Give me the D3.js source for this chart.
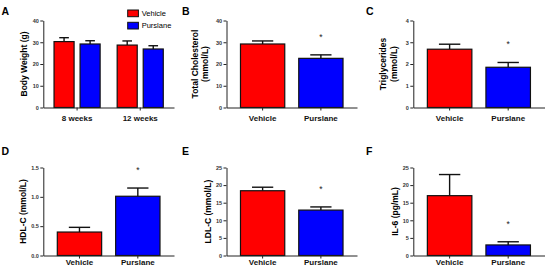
<!DOCTYPE html>
<html>
<head>
<script src="https://d3js.org/d3.v7.js"></script>
<style>
  body { margin: 0; background: #fff; }
  svg text { font-family: Arial, 'Liberation Sans', sans-serif; }
  .axis path, .axis line { stroke: #222; stroke-width: 1; }
  .axis text { font-size: 5.5px; font-weight: bold; fill: #333; }
  .xaxis text { font-size: 8px; font-weight: bold; fill: #111; }
</style>
</head>
<body>
<script>
// ---- data ----
const treatments = ['Vehicle', 'Purslane']
const weeks = ['8 weeks', '12 weeks']

// body weight (g), rows = weeks, cols = treatments
const bodyWeight = [[30.3, 29.2], [28.7, 26.9]]
const bodyWeightSem = [[1.8, 1.5], [1.9, 1.5]]
const bodyWeightTicks = [0, 10, 20, 30, 40]

const cholesterol = [29.2, 22.6]
const cholesterolSem = [1.4, 1.6]
const cholesterolTicks = [0, 10, 20, 30, 40]

const triglycerides = [2.68, 1.85]
const triglyceridesSem = [0.23, 0.22]
const triglyceridesTicks = [0, 1, 2, 3, 4]

const hdl = [0.40, 1.01]
const hdlSem = [0.08, 0.14]
const hdlTicks = [0.0, 0.5, 1.0, 1.5]

const ldl = [18.4, 12.9]
const ldlSem = [1.0, 0.9]
const ldlTicks = [0, 5, 10, 15, 20, 25]

const il6 = [17.0, 3.0]
const il6Sem = [6.0, 0.9]
const il6Ticks = [0, 5, 10, 15, 20, 25]

const significant = [false, true]
const colours = ['#ff0000', '#0000ff']

// ---- layout ----
const w = 546, h = 269
const cols = [[43.3, 174], [226.5, 357], [413.3, 544.5]]
const rows = [{ y0: 107.5, y1: 20.5, lab: 120.5, letter: 15 },
              { y0: 255.5, y1: 167.5, lab: 265, letter: 155 }]

const svg = d3.select('body').append('svg')
    .attr('width', w).attr('height', h)

function yAxis(g, y, ticks, fmt) {
    g.append('g').attr('class', 'axis')
        .call(d3.axisLeft(y).tickValues(ticks).tickSize(3).tickSizeOuter(0)
            .tickPadding(1.5).tickFormat(fmt || d3.format('d')))
}

function yTitle(g, x, yMid, lines) {
    const t = g.append('text')
        .attr('transform', `translate(${x},${yMid}) rotate(-90)`)
        .attr('text-anchor', 'middle')
        .style('font-size', '8.5px').style('font-weight', 'bold')
    lines.forEach((l, i) => {
        t.append('tspan').attr('x', 0)
            .attr('dy', i === 0 ? 0 : 10.5)
            .text(l)
    })
}

function letter(x, row, s) {
    svg.append('text').attr('x', x).attr('y', row.letter)
        .style('font-size', '10.5px').style('font-weight', 'bold').text(s)
}

function errorBars(g, x, y, cx, bw, val, sem) {
    const top = y(val + sem)
    g.append('line').attr('x1', cx).attr('x2', cx)
        .attr('y1', y(val)).attr('y2', top)
        .attr('stroke', '#111').attr('stroke-width', 1.4)
    g.append('line').attr('x1', cx - bw * 0.24).attr('x2', cx + bw * 0.24)
        .attr('y1', top).attr('y2', top)
        .attr('stroke', '#111').attr('stroke-width', 1.4)
}

function simplePanel(col, row, vals, sems, ticks, title, titleOff, fmt) {
    const g = svg.append('g')
    const x = d3.scaleBand().domain(treatments).range(cols[col]).padding(0.24)
    const y = d3.scaleLinear().domain([0, d3.max(ticks)]).range([row.y0, row.y1])

    treatments.forEach((t, i) => {
        const cx = x(t) + x.bandwidth() / 2
        errorBars(g, x, y, cx, x.bandwidth(), vals[i], sems[i])
    })
    g.selectAll('rect.bar').data(vals).enter().append('rect')
        .attr('class', 'bar')
        .attr('x', (d, i) => x(treatments[i]))
        .attr('y', d => y(d))
        .attr('width', x.bandwidth())
        .attr('height', d => y(0) - y(d))
        .attr('fill', (d, i) => colours[i])
        .attr('stroke', '#111').attr('stroke-width', 1.2)

    // significance stars
    g.selectAll('text.star').data(vals).enter().filter((d, i) => significant[i])
        .append('text').attr('class', 'star')
        .attr('x', (d, i) => x(treatments[1]) + x.bandwidth() / 2)
        .attr('y', d => y(d + sems[1]) - 15)
        .attr('text-anchor', 'middle')
        .style('font-size', '8.5px').attr('fill', '#222')
        .text('*')

    const xa = g.append('g').attr('class', 'axis xaxis')
        .attr('transform', `translate(0,${row.y0})`)
        .call(d3.axisBottom(x).tickSize(3).tickSizeOuter(0).tickPadding(1))
    xa.selectAll('text').attr('dy', null).attr('y', row.lab - row.y0)
    g.append('g').attr('transform', `translate(${cols[col][0]},0)`)
        .call(s => yAxis(s, y, ticks, fmt))
    yTitle(g, cols[col][0] - titleOff, (row.y0 + row.y1) / 2, title)
}

// ---- A: body weight, grouped ----
{
    const row = rows[0]
    const g = svg.append('g')
    const x0 = d3.scaleBand().domain(weeks).range(cols[0]).paddingInner(0.27).paddingOuter(0.17)
    const x1 = d3.scaleBand().domain(treatments).range([0, x0.bandwidth()]).paddingInner(0.23)
    const y = d3.scaleLinear().domain([0, d3.max(bodyWeightTicks)]).range([row.y0, row.y1])

    weeks.forEach((wk, wi) => {
        treatments.forEach((t, ti) => {
            const cx = x0(wk) + x1(t) + x1.bandwidth() / 2
            errorBars(g, null, y, cx, x1.bandwidth(), bodyWeight[wi][ti], bodyWeightSem[wi][ti])
        })
    })
    g.selectAll('g.wk').data(bodyWeight).enter().append('g')
        .attr('transform', (d, i) => `translate(${x0(weeks[i])},0)`)
        .selectAll('rect').data(d => d).enter().append('rect')
        .attr('x', (d, i) => x1(treatments[i]))
        .attr('y', d => y(d))
        .attr('width', x1.bandwidth())
        .attr('height', d => y(0) - y(d))
        .attr('fill', (d, i) => colours[i])
        .attr('stroke', '#111').attr('stroke-width', 1.2)

    const xa = g.append('g').attr('class', 'axis xaxis')
        .attr('transform', `translate(0,${row.y0})`)
        .call(d3.axisBottom(x0).tickSize(3).tickSizeOuter(0))
    xa.selectAll('text').attr('dy', null).attr('y', row.lab - row.y0)
    g.append('g').attr('transform', `translate(${cols[0][0]},0)`)
        .call(s => yAxis(s, y, bodyWeightTicks))
    yTitle(g, cols[0][0] - 16, (row.y0 + row.y1) / 2, ['Body Weight (g)'])

    // legend
    const lg = g.append('g').attr('transform', 'translate(127.7,10)')
    treatments.forEach((t, i) => {
        lg.append('rect').attr('x', 0).attr('y', i * 12.3)
            .attr('width', 10.7).attr('height', 6.7)
            .attr('fill', colours[i]).attr('stroke', '#111').attr('stroke-width', 1)
        lg.append('text').attr('x', 14).attr('y', i * 12.3 + 6)
            .style('font-size', '7.5px').text(t)
    })
}

simplePanel(1, rows[0], cholesterol, cholesterolSem, cholesterolTicks,
    ['Total Cholesterol', '(mmol/L)'], 29)
simplePanel(2, rows[0], triglycerides, triglyceridesSem, triglyceridesTicks,
    ['Triglycerides', '(mmol/L)'], 27)
simplePanel(0, rows[1], hdl, hdlSem, hdlTicks,
    ['HDL-C (mmol/L)'], 17, d3.format('.1f'))
simplePanel(1, rows[1], ldl, ldlSem, ldlTicks,
    ['LDL-C (mmol/L)'], 16)
simplePanel(2, rows[1], il6, il6Sem, il6Ticks,
    ['IL-6 (pg/mL)'], 15)

letter(1.5, rows[0], 'A')
letter(182, rows[0], 'B')
letter(366, rows[0], 'C')
letter(1.5, rows[1], 'D')
letter(182, rows[1], 'E')
letter(366, rows[1], 'F')
</script>
</body>
</html>
